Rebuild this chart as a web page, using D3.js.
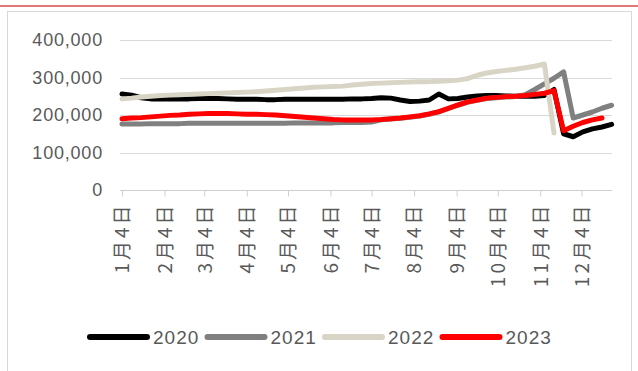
<!DOCTYPE html>
<html>
<head>
<meta charset="utf-8">
<script src="https://cdn.jsdelivr.net/npm/d3@7"></script>
<style>
  html, body { margin: 0; padding: 0; background: #fff; }
  svg { display: block; }
</style>
</head>
<body>
<svg id="chart" width="638" height="371"></svg>
<script>
// weekly series, values in thousand tons, week 0 = Jan 4
const years = ["2020", "2021", "2022", "2023"];
const colors = ["#000000", "#808080", "#d9d5c6", "#ff0000"];

const s2020 = [256, 253, 246, 243, 243, 243, 243, 243, 244, 244, 244, 243, 242, 242, 242, 241, 241, 242, 242, 242,
    242, 242, 242, 242, 243, 243, 244, 246, 245, 240, 236, 237, 240, 256, 243, 244, 248, 251, 252, 252,
    251, 250, 250, 250, 252, 268, 150, 142, 155, 163, 168, 175];
const s2021 = [176, 176, 176, 177, 177, 177, 177, 178, 178, 178, 178, 178, 178, 178, 178, 178, 178, 178, 179, 179,
    179, 179, 179, 180, 180, 180, 181, 187, 189, 191, 194, 197, 202, 208, 217, 226, 234, 239, 244, 246,
    248, 249, 254, 268, 283, 298, 315, 192, 200, 208, 218, 226];
const s2022 = [243, 245, 248, 250, 252, 253, 254, 255, 256, 257, 258, 259, 260, 261, 262, 264, 266, 268, 270, 272,
    274, 275, 276, 277, 280, 282, 284, 285, 286, 287, 288, 289, 289, 290, 291, 293, 297, 306, 312, 316,
    319, 322, 326, 330, 336, 152];
const s2023 = [190, 192, 193, 195, 197, 199, 200, 202, 203, 204, 204, 204, 203, 202, 202, 201, 200, 198, 196, 194,
    192, 190, 188, 187, 187, 187, 187, 188, 190, 192, 195, 198, 203, 209, 218, 227, 235, 240, 245, 247,
    249, 250, 252, 255, 258, 265, 158, 170, 180, 187, 192];

const yTicks = [0, 100000, 200000, 300000, 400000];
const monthTicks = d3.range(12).map(m => new Date(2020, m, 4));
const monthLabels = monthTicks.map(d => (d.getMonth() + 1) + "月4日");

const cfg = {
    plot: { left: 120, right: 612, top: 40, bottom: 190 },
    firstX: 122, lastX: 611.6,
    lineW: 5,
    legend: { y: 337, x0: 90, step: 117.5, len: 57 }
};

const series = [s2020, s2021, s2022, s2023].map((vals, k) => ({
    name: years[k],
    color: colors[k],
    values: vals.map((v, i) => ({ date: new Date(2020, 0, 4 + 7 * i), value: v * 1000 }))
}));

const svg = d3.select("#chart");

// page decoration
svg.append("line").attr("x1", 0).attr("x2", 638).attr("y1", 6).attr("y2", 6)
    .attr("stroke", "#d94a4a").attr("stroke-width", 1.6);
svg.append("rect").attr("x", 7.5).attr("y", 11.5).attr("width", 624).attr("height", 362)
    .attr("fill", "#fff").attr("stroke", "#d9d9d9");

const x = d3.scaleTime()
    .domain([new Date(2020, 0, 4), new Date(2020, 11, 26)])
    .range([cfg.firstX, cfg.lastX]);
const y = d3.scaleLinear().domain([0, 400000]).range([cfg.plot.bottom, cfg.plot.top]);

// gridlines
svg.append("g").selectAll("line").data(yTicks.filter(d => d > 0)).join("line")
    .attr("x1", cfg.plot.left).attr("x2", cfg.plot.right)
    .attr("y1", d => Math.round(y(d)) + 0.5).attr("y2", d => Math.round(y(d)) + 0.5)
    .attr("stroke", "#d9d9d9").attr("stroke-width", 1);

// y axis labels
const fmt = d3.format(",");
svg.append("g").selectAll("text").data(yTicks).join("text")
    .attr("x", 103).attr("y", d => y(d))
    .attr("dy", "0.35em")
    .attr("text-anchor", "end")
    .attr("font-family", "Liberation Sans, Arial, sans-serif")
    .attr("font-size", 18).attr("letter-spacing", 0.8)
    .attr("fill", "#595959")
    .text(d => fmt(d));

// x axis
const xAxis = d3.axisBottom(x).tickValues(monthTicks).tickSize(6).tickFormat((d, i) => monthLabels[i]);
const gx = svg.append("g").attr("transform", `translate(0,${Math.round(y(0)) + 0.5})`).call(xAxis);
gx.select(".domain").attr("d", `M${cfg.plot.left},0H${cfg.plot.right}`).attr("stroke", "#d0d0d0");
gx.selectAll(".tick line").attr("stroke", "#d0d0d0");
gx.selectAll(".tick text")
    .attr("transform", "rotate(-90)")
    .attr("x", -12).attr("y", 0).attr("dy", "0.36em")
    .attr("text-anchor", "end")
    .attr("font-family", "Noto Sans CJK SC, sans-serif")
    .attr("font-size", 19).attr("letter-spacing", 3)
    .attr("fill", "#595959");

// lines
const line = d3.line().x(d => x(d.date)).y(d => y(d.value));
svg.append("g").selectAll("path").data(series).join("path")
    .attr("d", d => line(d.values))
    .attr("fill", "none")
    .attr("stroke", d => d.color)
    .attr("stroke-width", cfg.lineW)
    .attr("stroke-linejoin", "round")
    .attr("stroke-linecap", "round");

// legend
const lg = svg.append("g").selectAll("g").data(series).join("g")
    .attr("transform", (d, i) => `translate(${cfg.legend.x0 + i * cfg.legend.step},${cfg.legend.y})`);
lg.append("line").attr("x1", 0).attr("x2", cfg.legend.len).attr("y1", 0).attr("y2", 0)
    .attr("stroke", d => d.color).attr("stroke-width", 6).attr("stroke-linecap", "round");
lg.append("text").attr("x", cfg.legend.len + 6).attr("y", 0).attr("dy", "0.35em")
    .attr("font-family", "Liberation Sans, Arial, sans-serif")
    .attr("font-size", 19).attr("letter-spacing", 1)
    .attr("fill", "#595959")
    .text(d => d.name);
</script>
</body>
</html>
